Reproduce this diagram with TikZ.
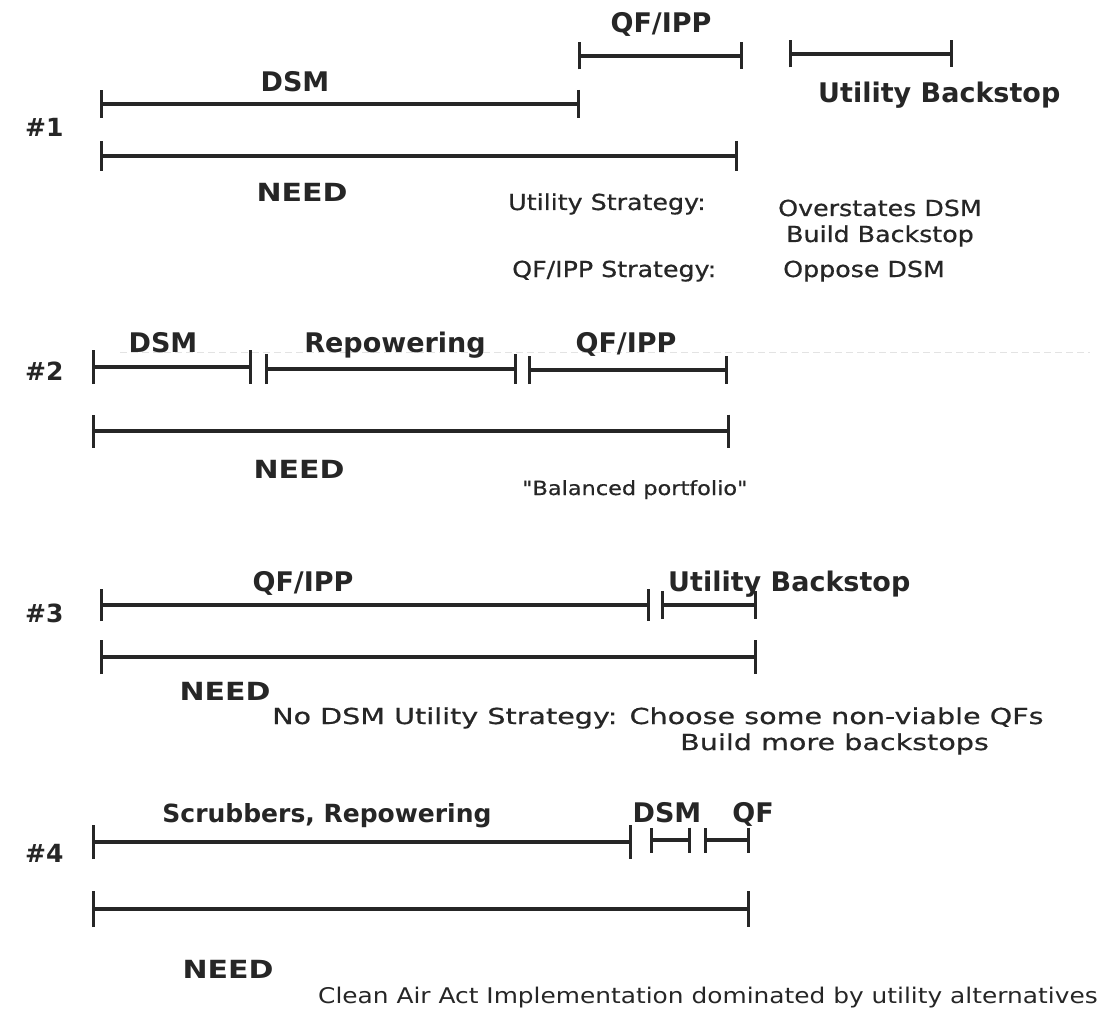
\documentclass[tikz,border=0pt]{standalone}
\usepackage{fontspec}
\setmainfont{DejaVu Sans}
\newfontfamily\notefont[FakeStretch=1.15,FakeBold=0.6]{DejaVu Sans}
\newfontfamily\widenotefont[FakeStretch=1.3,FakeBold=0.6]{DejaVu Sans}
\newfontfamily\capfont[FakeStretch=1.15]{DejaVu Sans}
\newfontfamily\needfont[FakeStretch=1.2]{DejaVu Sans}
\usetikzlibrary{arrows.meta}
\usetikzlibrary{positioning}
\definecolor{ink}{HTML}{262626}
\tikzset{
  seg/.style={draw=ink, line width=3.2pt,
    {Bar[width=#1]}-{Bar[width=#1]}},
  seg/.default=30pt,
  hdr/.style={text=ink, inner sep=0pt,
    font=\bfseries\fontsize{27}{30}\selectfont},
  num/.style={text=ink, inner sep=0pt,
    font=\bfseries\fontsize{25}{28}\selectfont},
  needlbl/.style={text=ink, inner sep=0pt,
    font=\needfont\bfseries\fontsize{25}{28}\selectfont},
  note/.style={text=ink, inner sep=0pt,
    font=\notefont\fontsize{22}{26}\selectfont},
}

\begin{document}
\begin{tikzpicture}[x=1pt, y=-1pt]
  \fill[white] (0,0) rectangle (1098,1019);
  \useasboundingbox (0,0) rectangle (1098,1019);

  % faint scan line behind case 2
  \draw[gray!22, line width=1pt, dash pattern=on 7pt off 4pt] (120,352) -- (1090,352);

  % case numbers
  \foreach \n/\y in {1/137,2/380,3/622,4/862} {
    \node[num, anchor=base west] (num\n) at (25,\y) {\#\n};
  }

  % bars: name / start / end / height / tick size
  \foreach \r/\a/\b/\y/\w in {r1-dsm/100/580/104/28, r1-qf/578/743/56/27,
      r1-ub/789/953/54/27, r1-need/100/738/156/30,
      r2-dsm/92/252/367/34, r2-rep/265/517/369/30, r2-qf/528/728/370/28,
      r2-need/92/730/431/33,
      r3-qf/100/650/605/32, r3-ub/661/757/605/28, r3-need/100/757/657/34,
      r4-scr/92/632/842/34, r4-dsm/650/691/840/25, r4-qf/704/750/840/25,
      r4-need/92/750/909/36} {
    \coordinate (\r-a) at (\a,\y);
    \coordinate (\r-b) at (\b,\y);
    \draw[seg=\w pt] (\r-a) -- (\r-b);
  }

  % case 1
  \node[hdr, anchor=base] (r1-qf-t) at (661,33) {QF/IPP};
  \node[hdr, anchor=base] (r1-dsm-t) at (295,92) {DSM};
  \node[hdr, anchor=base west] (r1-ub-t) at (818,103) {Utility Backstop};
  \node[needlbl, anchor=base] (r1-need-t) at (302,202) {NEED};
  \node[note, anchor=base west] (r1-us) at (508,210) {Utility Strategy:};
  \node[note, anchor=base west] (r1-qs) at (512,277) {QF/IPP Strategy:};
  \node[note, anchor=base] (r1-us1) at (880,216) {Overstates DSM};
  \node[note, anchor=base] (r1-us2) at (880,242) {Build Backstop};
  \node[note, anchor=base west] (r1-qs1) at (783,277) {Oppose DSM};

  % case 2
  \node[hdr, anchor=base] (r2-dsm-t) at (163,352) {DSM};
  \node[hdr, anchor=base] (r2-rep-t) at (395,352) {Repowering};
  \node[hdr, anchor=base] (r2-qf-t) at (626,352) {QF/IPP};
  \node[needlbl, anchor=base] (r2-need-t) at (299,478) {NEED};
  \node[note, anchor=base west, font=\notefont\fontsize{19.5}{24}\selectfont]
    (r2-bal) at (522,495) {"Balanced portfolio"};

  % case 3
  \node[hdr, anchor=base] (r3-qf-t) at (303,591) {QF/IPP};
  \node[hdr, anchor=base west] (r3-ub-t) at (668,591) {Utility Backstop};
  \node[needlbl, anchor=base] (r3-need-t) at (225,700) {NEED};
  \node[note, anchor=base west, font=\widenotefont\fontsize{22}{26}\selectfont]
    (r3-us) at (272,724) {No DSM Utility Strategy: Choose some non-viable QFs};
  \node[note, anchor=base west, font=\widenotefont\fontsize{22}{26}\selectfont]
    (r3-us2) at (680,750) {Build more backstops};

  % case 4
  \node[hdr, anchor=base, font=\bfseries\fontsize{25}{28}\selectfont]
    (r4-scr-t) at (327,822) {Scrubbers, Repowering};
  \node[hdr, anchor=base] (r4-dsm-t) at (667,822) {DSM};
  \node[hdr, anchor=base] (r4-qf-t) at (753,822) {QF};
  \node[needlbl, anchor=base] (r4-need-t) at (228,978) {NEED};
  \node[note, anchor=base west, font=\capfont\fontsize{21.6}{25}\selectfont]
    (cap) at (318,1003) {Clean Air Act Implementation dominated by utility alternatives};
\end{tikzpicture}
\end{document}
